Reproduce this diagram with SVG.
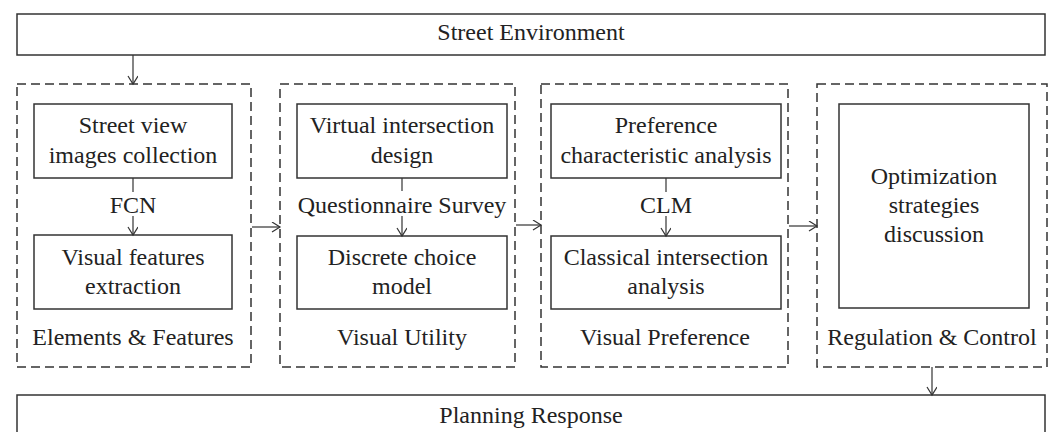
<svg xmlns="http://www.w3.org/2000/svg" width="1054" height="432" viewBox="0 0 1054 432">
<style>
.t{font-family:"Liberation Serif","Times New Roman",serif;font-size:24px;fill:#222;text-anchor:middle}
.box{fill:#fff;stroke:#333;stroke-width:1.5}
.dash{fill:none;stroke:#333;stroke-width:1.5;stroke-dasharray:9 5}
.ln{fill:none;stroke:#333;stroke-width:1.2}
</style>
<defs>
<marker id="ah" markerUnits="userSpaceOnUse" markerWidth="12" markerHeight="12" refX="9" refY="5" orient="auto">
<path d="M1,0 L9,5 L1,10" fill="none" stroke="#333" stroke-width="1.2"/>
</marker>
</defs>
<rect width="1054" height="432" fill="#fff"/>

<g id="street-environment">
<rect class="box" x="17" y="14" width="1028" height="41"/>
<text class="t" x="531" y="40">Street Environment</text>
</g>

<g id="planning-response">
<rect class="box" x="17" y="395" width="1028" height="60"/>
<text class="t" x="531" y="423">Planning Response</text>
</g>

<g id="elements-features">
<rect class="dash" x="17" y="84" width="234" height="283"/>
<text class="t" x="133" y="345">Elements &amp; Features</text>
</g>
<g id="street-view-images">
<rect class="box" x="34" y="104" width="198" height="74"/>
<text class="t" x="133" y="133">Street view</text>
<text class="t" x="133" y="163">images collection</text>
</g>
<g id="visual-features">
<rect class="box" x="34" y="235" width="198" height="74"/>
<text class="t" x="133" y="265">Visual features</text>
<text class="t" x="133" y="294">extraction</text>
</g>

<g id="visual-utility">
<rect class="dash" x="280" y="84" width="235" height="283"/>
<text class="t" x="402" y="345">Visual Utility</text>
</g>
<g id="virtual-intersection">
<rect class="box" x="297" y="104" width="210" height="74"/>
<text class="t" x="402" y="133">Virtual intersection</text>
<text class="t" x="402" y="163">design</text>
</g>
<g id="discrete-choice">
<rect class="box" x="297" y="236" width="210" height="73"/>
<text class="t" x="402" y="265">Discrete choice</text>
<text class="t" x="402" y="294">model</text>
</g>

<g id="visual-preference">
<rect class="dash" x="541" y="84" width="247" height="283"/>
<text class="t" x="665" y="345">Visual Preference</text>
</g>
<g id="preference-characteristic">
<rect class="box" x="551" y="104" width="230" height="74"/>
<text class="t" x="666" y="133">Preference</text>
<text class="t" x="666" y="163">characteristic analysis</text>
</g>
<g id="classical-intersection">
<rect class="box" x="551" y="236" width="230" height="73"/>
<text class="t" x="666" y="265">Classical intersection</text>
<text class="t" x="666" y="294">analysis</text>
</g>

<g id="regulation-control">
<rect class="dash" x="817" y="84" width="230" height="283"/>
<text class="t" x="932" y="345">Regulation &amp; Control</text>
</g>
<g id="optimization">
<rect class="box" x="839" y="104" width="190" height="204"/>
<text class="t" x="934" y="184">Optimization</text>
<text class="t" x="934" y="213">strategies</text>
<text class="t" x="934" y="242">discussion</text>
</g>

<g id="connectors">
<line class="ln" x1="133" y1="55" x2="133" y2="84" marker-end="url(#ah)"/>
<line class="ln" x1="133" y1="178" x2="133" y2="192"/>
<text class="t" x="133" y="213">FCN</text>
<line class="ln" x1="133" y1="216" x2="133" y2="235" marker-end="url(#ah)"/>
<line class="ln" x1="402" y1="178" x2="402" y2="191"/>
<text class="t" x="402" y="213">Questionnaire Survey</text>
<line class="ln" x1="402" y1="216" x2="402" y2="236" marker-end="url(#ah)"/>
<line class="ln" x1="666" y1="178" x2="666" y2="192"/>
<text class="t" x="666" y="213">CLM</text>
<line class="ln" x1="666" y1="216" x2="666" y2="236" marker-end="url(#ah)"/>
<line class="ln" x1="252" y1="227" x2="280" y2="227" marker-end="url(#ah)"/>
<line class="ln" x1="516" y1="225" x2="541" y2="225" marker-end="url(#ah)"/>
<line class="ln" x1="789" y1="226" x2="817" y2="226" marker-end="url(#ah)"/>
<line class="ln" x1="932" y1="367" x2="932" y2="395" marker-end="url(#ah)"/>
</g>
</svg>
